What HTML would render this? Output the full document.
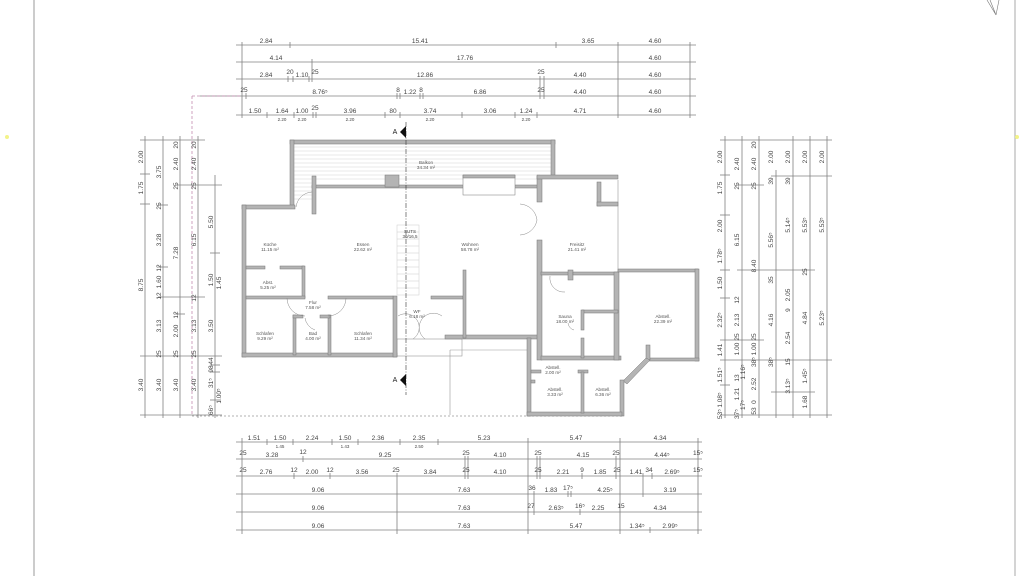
<!DOCTYPE html>
<html><head><meta charset="utf-8"><style>
html,body{margin:0;padding:0;background:#fff;width:1024px;height:576px;overflow:hidden}
svg{display:block}
.d{stroke:#808080;stroke-width:0.8;fill:none}
.t{font-family:"Liberation Sans",sans-serif;font-size:6.5px;fill:#444;text-anchor:middle}
.s{font-family:"Liberation Sans",sans-serif;font-size:4.5px;fill:#444;text-anchor:middle}
.r{font-family:"Liberation Sans",sans-serif;font-size:4.6px;fill:#555;text-anchor:middle}
.w{fill:#b4b4b4;stroke:#777;stroke-width:0.5}
.l{stroke:#999;stroke-width:0.6;fill:none}
</style></head><body>
<svg width="1024" height="576" viewBox="0 0 1024 576" xmlns="http://www.w3.org/2000/svg">
<!-- page borders -->
<line x1="34" y1="0" x2="34" y2="576" stroke="#999" stroke-width="1"/>
<line x1="1015" y1="0" x2="1015" y2="576" stroke="#aaa" stroke-width="1"/>
<path d="M987 0 L996 15 L990 0 M996 15 L999 0" stroke="#777" stroke-width="0.6" fill="none"/>
<circle cx="7" cy="137" r="2" fill="#f3f38a"/>
<circle cx="1017" cy="137" r="2" fill="#f3f38a"/>

<!-- TOP DIMENSIONS -->
<g class="d">
<line x1="236" y1="45" x2="696" y2="45"/><line x1="236" y1="62" x2="696" y2="62"/>
<line x1="236" y1="79" x2="696" y2="79"/><line x1="200" y1="96" x2="696" y2="96"/>
<line x1="236" y1="115" x2="696" y2="115"/>
<line x1="242" y1="42" x2="242" y2="118"/><line x1="690" y1="42" x2="690" y2="118"/><line x1="618" y1="42" x2="618" y2="118"/>
<line x1="290" y1="42" x2="290" y2="48"/><line x1="556" y1="42" x2="556" y2="48"/>
<line x1="312" y1="59" x2="312" y2="82"/>
<line x1="288" y1="76" x2="288" y2="82"/><line x1="293" y1="76" x2="293" y2="82"/><line x1="309" y1="76" x2="309" y2="82"/>
<line x1="540" y1="76" x2="540" y2="99"/><line x1="544" y1="76" x2="544" y2="99"/>
<line x1="246" y1="93" x2="246" y2="99"/><line x1="397" y1="93" x2="397" y2="99"/><line x1="400" y1="93" x2="400" y2="99"/>
<line x1="420" y1="93" x2="420" y2="99"/><line x1="423" y1="93" x2="423" y2="99"/>
<line x1="267" y1="112" x2="267" y2="118"/><line x1="294" y1="112" x2="294" y2="118"/><line x1="313" y1="112" x2="313" y2="118"/><line x1="316" y1="112" x2="316" y2="118"/>
<line x1="385" y1="112" x2="385" y2="118"/><line x1="400" y1="112" x2="400" y2="118"/><line x1="462" y1="112" x2="462" y2="118"/><line x1="515" y1="112" x2="515" y2="118"/><line x1="537" y1="112" x2="537" y2="118"/>
</g>
<g class="t">
<text x="266" y="43">2.84</text><text x="420" y="43">15.41</text><text x="588" y="43">3.65</text><text x="655" y="43">4.60</text>
<text x="276" y="60">4.14</text><text x="465" y="60">17.76</text><text x="655" y="60">4.60</text>
<text x="266" y="77">2.84</text><text x="290" y="74">20</text><text x="302" y="77">1.10</text><text x="315" y="74">25</text><text x="425" y="77">12.86</text><text x="541" y="74">25</text><text x="580" y="77">4.40</text><text x="655" y="77">4.60</text>
<text x="244" y="92">25</text><text x="320" y="94">8.76⁵</text><text x="398" y="92">8</text><text x="410" y="94">1.22</text><text x="421" y="92">8</text><text x="480" y="94">6.86</text><text x="541" y="92">25</text><text x="580" y="94">4.40</text><text x="655" y="94">4.60</text>
<text x="255" y="113">1.50</text><text x="282" y="113">1.64</text><text x="302" y="113">1.00</text><text x="315" y="110">25</text><text x="350" y="113">3.96</text><text x="393" y="113">80</text><text x="430" y="113">3.74</text><text x="490" y="113">3.06</text><text x="526" y="113">1.24</text><text x="580" y="113">4.71</text><text x="655" y="113">4.60</text>
</g>
<g class="s"><text x="282" y="121">2.20</text><text x="302" y="121">2.20</text><text x="350" y="121">2.20</text><text x="430" y="121">2.20</text><text x="526" y="121">2.20</text></g>

<!-- pink dashed -->
<path d="M192 96 H242 M192 96 V415" stroke="#c48cb0" stroke-width="0.8" stroke-dasharray="3,2" fill="none"/>
<line x1="192" y1="416" x2="622" y2="416" stroke="#999" stroke-width="0.7" stroke-dasharray="2,2"/>

<!-- LEFT DIMENSIONS -->
<g class="d">
<line x1="145" y1="136" x2="145" y2="418"/><line x1="163" y1="136" x2="163" y2="418"/><line x1="180" y1="136" x2="180" y2="418"/><line x1="198" y1="136" x2="198" y2="418"/><line x1="215" y1="175" x2="215" y2="418"/>
<line x1="140" y1="140" x2="205" y2="140"/><line x1="140" y1="174" x2="150" y2="174"/><line x1="140" y1="204" x2="150" y2="204"/>
<line x1="140" y1="356" x2="222" y2="356"/><line x1="140" y1="415" x2="222" y2="415"/>
<line x1="176" y1="185" x2="222" y2="185"/><line x1="158" y1="205" x2="168" y2="205"/><line x1="158" y1="267" x2="168" y2="267"/><line x1="158" y1="297" x2="205" y2="297"/>
<line x1="210" y1="253" x2="220" y2="253"/><line x1="175" y1="314" x2="185" y2="314"/>
<line x1="210" y1="365" x2="220" y2="365"/><line x1="210" y1="372" x2="220" y2="372"/><line x1="210" y1="400" x2="220" y2="400"/>
</g>
<g class="t">
<text transform="translate(143,157) rotate(-90)">2.00</text><text transform="translate(143,188) rotate(-90)">1.75</text><text transform="translate(143,285) rotate(-90)">8.75</text><text transform="translate(143,385) rotate(-90)">3.40</text>
<text transform="translate(161,172) rotate(-90)">3.75</text><text transform="translate(161,206) rotate(-90)">25</text><text transform="translate(161,240) rotate(-90)">3.28</text><text transform="translate(161,268) rotate(-90)">12</text><text transform="translate(161,282) rotate(-90)">1.60</text><text transform="translate(161,296) rotate(-90)">12</text><text transform="translate(161,326) rotate(-90)">3.13</text><text transform="translate(161,354) rotate(-90)">25</text><text transform="translate(161,385) rotate(-90)">3.40</text>
<text transform="translate(178,145) rotate(-90)">20</text><text transform="translate(178,164) rotate(-90)">2.40</text><text transform="translate(178,186) rotate(-90)">25</text><text transform="translate(178,253) rotate(-90)">7.28</text><text transform="translate(178,315) rotate(-90)">12</text><text transform="translate(178,331) rotate(-90)">2.00</text><text transform="translate(178,354) rotate(-90)">25</text><text transform="translate(178,385) rotate(-90)">3.40</text>
<text transform="translate(196,145) rotate(-90)">20</text><text transform="translate(196,164) rotate(-90)">2.40</text><text transform="translate(196,186) rotate(-90)">25</text><text transform="translate(196,240) rotate(-90)">6.15</text><text transform="translate(196,298) rotate(-90)">12</text><text transform="translate(196,326) rotate(-90)">3.13</text><text transform="translate(196,354) rotate(-90)">25</text><text transform="translate(196,385) rotate(-90)">3.40</text>
<text transform="translate(213,222) rotate(-90)">5.50</text><text transform="translate(213,280) rotate(-90)">1.50</text><text transform="translate(221,283) rotate(-90)">1.45</text><text transform="translate(213,326) rotate(-90)">3.50</text><text transform="translate(213,361) rotate(-90)">44</text><text transform="translate(213,369) rotate(-90)">98</text><text transform="translate(213,383) rotate(-90)">31⁵</text><text transform="translate(221,396) rotate(-90)">1.00⁵</text><text transform="translate(213,410) rotate(-90)">66⁵</text>
</g>

<!-- RIGHT DIMENSIONS -->
<g class="d">
<line x1="725" y1="136" x2="725" y2="418"/><line x1="742" y1="136" x2="742" y2="418"/><line x1="759" y1="136" x2="759" y2="418"/><line x1="776" y1="170" x2="776" y2="418"/><line x1="793" y1="136" x2="793" y2="418"/><line x1="810" y1="136" x2="810" y2="418"/><line x1="827" y1="136" x2="827" y2="418"/>
<line x1="720" y1="140" x2="832" y2="140"/><line x1="720" y1="175" x2="730" y2="175"/><line x1="737" y1="185" x2="764" y2="185"/><line x1="771" y1="176" x2="832" y2="176"/>
<line x1="720" y1="215" x2="730" y2="215"/><line x1="720" y1="270" x2="730" y2="270"/><line x1="737" y1="270" x2="815" y2="270"/><line x1="720" y1="298" x2="730" y2="298"/>
<line x1="720" y1="340" x2="764" y2="340"/><line x1="720" y1="360" x2="832" y2="360"/><line x1="720" y1="385" x2="730" y2="385"/><line x1="771" y1="392" x2="815" y2="392"/>
<line x1="720" y1="415" x2="832" y2="415"/>
</g>
<g class="t">
<text transform="translate(722,157) rotate(-90)">2.00</text><text transform="translate(722,188) rotate(-90)">1.75</text><text transform="translate(722,226) rotate(-90)">2.00</text><text transform="translate(722,256) rotate(-90)">1.78⁵</text><text transform="translate(722,283) rotate(-90)">1.50</text><text transform="translate(722,320) rotate(-90)">2.32⁵</text><text transform="translate(722,350) rotate(-90)">1.41</text><text transform="translate(722,375) rotate(-90)">1.51⁵</text><text transform="translate(722,400) rotate(-90)">1.08⁵</text><text transform="translate(722,414) rotate(-90)">53⁵</text>
<text transform="translate(739,164) rotate(-90)">2.40</text><text transform="translate(739,186) rotate(-90)">25</text><text transform="translate(739,240) rotate(-90)">6.15</text><text transform="translate(739,300) rotate(-90)">12</text><text transform="translate(739,320) rotate(-90)">2.13</text><text transform="translate(739,337) rotate(-90)">25</text><text transform="translate(739,349) rotate(-90)">1.00</text><text transform="translate(739,378) rotate(-90)">13</text><text transform="translate(745,372) rotate(-90)">1.16⁵</text><text transform="translate(739,394) rotate(-90)">1.21</text><text transform="translate(745,405) rotate(-90)">17⁵</text><text transform="translate(739,414) rotate(-90)">37⁵</text>
<text transform="translate(756,145) rotate(-90)">20</text><text transform="translate(756,164) rotate(-90)">2.40</text><text transform="translate(756,186) rotate(-90)">25</text><text transform="translate(756,266) rotate(-90)">8.40</text><text transform="translate(756,337) rotate(-90)">25</text><text transform="translate(756,349) rotate(-90)">1.00</text><text transform="translate(756,362) rotate(-90)">38⁵</text><text transform="translate(756,384) rotate(-90)">2.52</text><text transform="translate(756,402) rotate(-90)">0</text><text transform="translate(756,411) rotate(-90)">53</text>
<text transform="translate(773,157) rotate(-90)">2.00</text><text transform="translate(773,181) rotate(-90)">39</text><text transform="translate(773,240) rotate(-90)">5.56⁵</text><text transform="translate(773,280) rotate(-90)">35</text><text transform="translate(773,320) rotate(-90)">4.16</text><text transform="translate(773,362) rotate(-90)">38⁵</text>
<text transform="translate(790,157) rotate(-90)">2.00</text><text transform="translate(790,181) rotate(-90)">39</text><text transform="translate(790,225) rotate(-90)">5.14⁵</text><text transform="translate(790,295) rotate(-90)">2.05</text><text transform="translate(790,310) rotate(-90)">9</text><text transform="translate(790,338) rotate(-90)">2.54</text><text transform="translate(790,362) rotate(-90)">15</text><text transform="translate(790,386) rotate(-90)">3.13⁵</text>
<text transform="translate(807,157) rotate(-90)">2.00</text><text transform="translate(807,225) rotate(-90)">5.53⁵</text><text transform="translate(807,272) rotate(-90)">25</text><text transform="translate(807,318) rotate(-90)">4.84</text><text transform="translate(807,376) rotate(-90)">1.45⁵</text><text transform="translate(807,402) rotate(-90)">1.68</text>
<text transform="translate(824,157) rotate(-90)">2.00</text><text transform="translate(824,225) rotate(-90)">5.53⁵</text><text transform="translate(824,318) rotate(-90)">5.23⁵</text>
</g>

<!-- BOTTOM DIMENSIONS -->
<g class="d">
<line x1="236" y1="442" x2="702" y2="442"/><line x1="236" y1="459" x2="702" y2="459"/><line x1="236" y1="476" x2="702" y2="476"/><line x1="236" y1="494" x2="702" y2="494"/><line x1="236" y1="512" x2="702" y2="512"/><line x1="236" y1="530" x2="702" y2="530"/>
<line x1="242" y1="438" x2="242" y2="534"/><line x1="698" y1="438" x2="698" y2="534"/><line x1="397" y1="473" x2="397" y2="534"/><line x1="528" y1="438" x2="528" y2="534"/><line x1="620" y1="438" x2="620" y2="534"/>
<line x1="267" y1="439" x2="267" y2="445"/><line x1="293" y1="439" x2="293" y2="445"/><line x1="332" y1="439" x2="332" y2="445"/><line x1="358" y1="439" x2="358" y2="445"/><line x1="400" y1="439" x2="400" y2="445"/><line x1="438" y1="439" x2="438" y2="445"/>
<line x1="465" y1="456" x2="465" y2="479"/><line x1="468" y1="456" x2="468" y2="479"/><line x1="537" y1="456" x2="537" y2="479"/><line x1="540" y1="456" x2="540" y2="479"/><line x1="616" y1="456" x2="616" y2="479"/>
<line x1="303" y1="456" x2="303" y2="462"/><line x1="294" y1="473" x2="294" y2="479"/><line x1="330" y1="473" x2="330" y2="479"/><line x1="582" y1="473" x2="582" y2="479"/><line x1="643" y1="473" x2="643" y2="497"/><line x1="652" y1="473" x2="652" y2="479"/>
<line x1="534" y1="491" x2="534" y2="515"/><line x1="568" y1="491" x2="568" y2="497"/><line x1="571" y1="491" x2="571" y2="497"/><line x1="580" y1="509" x2="580" y2="515"/><line x1="650" y1="527" x2="650" y2="533"/>
</g>
<g class="t">
<text x="254" y="440">1.51</text><text x="280" y="440">1.50</text><text x="312" y="440">2.24</text><text x="345" y="440">1.50</text><text x="378" y="440">2.36</text><text x="419" y="440">2.35</text><text x="484" y="440">5.23</text><text x="576" y="440">5.47</text><text x="660" y="440">4.34</text>
<text x="243" y="455">25</text><text x="272" y="457">3.28</text><text x="303" y="454">12</text><text x="385" y="457">9.25</text><text x="466" y="455">25</text><text x="500" y="457">4.10</text><text x="538" y="455">25</text><text x="583" y="457">4.15</text><text x="616" y="455">25</text><text x="662" y="457">4.44⁵</text><text x="698" y="455">15⁵</text>
<text x="243" y="472">25</text><text x="266" y="474">2.76</text><text x="294" y="472">12</text><text x="312" y="474">2.00</text><text x="330" y="472">12</text><text x="362" y="474">3.56</text><text x="396" y="472">25</text><text x="430" y="474">3.84</text><text x="466" y="472">25</text><text x="500" y="474">4.10</text><text x="538" y="472">25</text><text x="563" y="474">2.21</text><text x="582" y="472">9</text><text x="600" y="474">1.85</text><text x="617" y="472">25</text><text x="636" y="474">1.41</text><text x="649" y="472">34</text><text x="672" y="474">2.69⁵</text><text x="698" y="472">15⁵</text>
<text x="318" y="492">9.06</text><text x="464" y="492">7.63</text><text x="532" y="490">36</text><text x="551" y="492">1.83</text><text x="568" y="490">17⁵</text><text x="605" y="492">4.25⁵</text><text x="670" y="492">3.19</text>
<text x="318" y="510">9.06</text><text x="464" y="510">7.63</text><text x="531" y="508">27</text><text x="556" y="510">2.63⁵</text><text x="580" y="508">16⁵</text><text x="598" y="510">2.25</text><text x="621" y="508">15</text><text x="660" y="510">4.34</text>
<text x="318" y="528">9.06</text><text x="464" y="528">7.63</text><text x="576" y="528">5.47</text><text x="637" y="528">1.34⁵</text><text x="670" y="528">2.99⁵</text>
</g>
<g class="s"><text x="280" y="448">1.45</text><text x="345" y="448">1.43</text><text x="419" y="448">2.50</text></g>

<!-- PLAN -->
<!-- balcony hatching -->
<g stroke="#d4d4d4" stroke-width="0.5">
<line x1="294" y1="147" x2="551" y2="147"/><line x1="294" y1="151" x2="551" y2="151"/><line x1="294" y1="155" x2="551" y2="155"/><line x1="294" y1="159" x2="551" y2="159"/><line x1="294" y1="163" x2="551" y2="163"/><line x1="294" y1="167" x2="551" y2="167"/><line x1="294" y1="171" x2="551" y2="171"/><line x1="294" y1="175" x2="540" y2="175"/><line x1="294" y1="179" x2="540" y2="179"/><line x1="294" y1="183" x2="312" y2="183"/><line x1="294" y1="187" x2="312" y2="187"/><line x1="294" y1="191" x2="312" y2="191"/><line x1="294" y1="195" x2="312" y2="195"/><line x1="294" y1="199" x2="312" y2="199"/>
</g>
<!-- stairs -->
<g stroke="#ccc" stroke-width="0.5" fill="none">
<rect x="397" y="225" width="22" height="70"/>
<line x1="397" y1="232" x2="419" y2="232"/><line x1="397" y1="239" x2="419" y2="239"/><line x1="397" y1="246" x2="419" y2="246"/><line x1="397" y1="253" x2="419" y2="253"/><line x1="397" y1="260" x2="419" y2="260"/><line x1="397" y1="267" x2="419" y2="267"/><line x1="397" y1="274" x2="419" y2="274"/><line x1="397" y1="281" x2="419" y2="281"/><line x1="397" y1="288" x2="419" y2="288"/>
</g>
<!-- light outlines -->
<g class="l">
<rect x="397" y="339" width="65" height="17"/>
<path d="M450 350 H528 M450 350 V415"/>
<line x1="618" y1="180" x2="618" y2="272"/>
</g>
<!-- walls -->
<g class="w">
<rect x="290" y="140" width="265" height="4"/><rect x="290" y="140" width="4" height="66"/><rect x="551" y="140" width="4" height="36"/>
<rect x="312" y="185" width="228" height="3"/><rect x="312" y="176" width="4" height="38"/>
<rect x="385" y="175" width="14" height="12"/>
<rect x="463" y="175" width="52" height="20" fill="#fff"/><rect x="463" y="175" width="52" height="3"/>
<rect x="242" y="205" width="53" height="4"/><rect x="242" y="205" width="4" height="152"/>
<rect x="242" y="353" width="155" height="4"/><rect x="393" y="296" width="4" height="61"/>
<rect x="445" y="335" width="95" height="4"/>
<rect x="537" y="176" width="5" height="26"/><rect x="537" y="240" width="5" height="120"/>
<rect x="537" y="175" width="81" height="4"/><rect x="597" y="182" width="4" height="24"/><rect x="597" y="202" width="21" height="4"/>
<rect x="246" y="266" width="19" height="3"/><rect x="280" y="266" width="24" height="3"/><rect x="302" y="266" width="3" height="32"/>
<rect x="246" y="296" width="59" height="3"/><rect x="328" y="296" width="65" height="3"/>
<rect x="431" y="296" width="32" height="3"/><rect x="463" y="270" width="3" height="68"/>
<rect x="293" y="315" width="3" height="40"/><rect x="328" y="315" width="3" height="40"/><rect x="293" y="315" width="10" height="3"/><rect x="320" y="315" width="10" height="3"/>
<rect x="541" y="272" width="28" height="3"/><rect x="568" y="270" width="5" height="10"/><rect x="573" y="272" width="45" height="3"/>
<rect x="541" y="356" width="80" height="4"/><rect x="614" y="272" width="5" height="88"/>
<rect x="582" y="310" width="36" height="3"/><rect x="581" y="310" width="3" height="20"/><rect x="581" y="338" width="3" height="20"/>
<rect x="618" y="269" width="80" height="3"/><rect x="695" y="269" width="4" height="92"/><rect x="648" y="358" width="51" height="3"/><rect x="646" y="345" width="4" height="15"/>
<polygon points="646,358 650,360 627,384 623,381"/>
<rect x="620" y="380" width="4" height="36"/>
<rect x="527" y="338" width="4" height="78"/><rect x="527" y="412" width="95" height="4"/>
<rect x="531" y="370" width="10" height="3"/><rect x="578" y="370" width="10" height="3"/><rect x="581" y="372" width="3" height="41"/>
<rect x="531" y="380" width="4" height="3"/>
</g>
<!-- door arcs -->
<g stroke="#888" stroke-width="0.5" fill="none">
<path d="M296 207 A17 17 0 0 1 312 192"/><path d="M520 204 A18 18 0 0 1 537 220 M520 235 A18 18 0 0 0 537 220"/>
<path d="M287 298 A18 18 0 0 0 305 316 M346 298 A18 18 0 0 1 328 316 M305 318 A15 15 0 0 0 315 330"/>
<path d="M398 316 A12 12 0 0 1 413 339 M442 316 A12 12 0 0 0 425 339"/>
<path d="M550 276 A14 14 0 0 0 565 292"/><path d="M568 323 A8 8 0 0 0 574 330"/>
</g>
<!-- section line -->
<line x1="406" y1="122" x2="406" y2="395" stroke="#333" stroke-width="0.6" stroke-dasharray="5,1.5,1,1.5"/>
<polygon points="400,132 406,126 406,138" fill="#111"/><polygon points="400,380 406,374 406,386" fill="#111"/>
<text x="395" y="134" font-family="Liberation Sans,sans-serif" font-size="7" fill="#222" text-anchor="middle">A</text>
<text x="395" y="382" font-family="Liberation Sans,sans-serif" font-size="7" fill="#222" text-anchor="middle">A</text>
<!-- room labels -->
<g class="r">
<text x="426" y="164">Balkon</text><text x="426" y="169">34.34 m²</text>
<text x="270" y="246">Küche</text><text x="270" y="251">11.15 m²</text>
<text x="363" y="246">Essen</text><text x="363" y="251">22.62 m²</text>
<text x="470" y="246">Wohnen</text><text x="470" y="251">58.78 m²</text>
<text x="577" y="246">Freisitz</text><text x="577" y="251">21.41 m²</text>
<text x="268" y="284">Abst.</text><text x="268" y="289">5.25 m²</text>
<text x="313" y="304">Flur</text><text x="313" y="309">7.58 m²</text>
<text x="265" y="335">Schlafen</text><text x="265" y="340">9.29 m²</text>
<text x="313" y="335">Bad</text><text x="313" y="340">4.00 m²</text>
<text x="363" y="335">Schlafen</text><text x="363" y="340">11.34 m²</text>
<text x="417" y="313">WF</text><text x="417" y="318">6.18 m²</text>
<text x="565" y="318">Sauna</text><text x="565" y="323">18.00 m²</text>
<text x="663" y="318">Abstell.</text><text x="663" y="323">22.39 m²</text>
<text x="553" y="369">Abstell.</text><text x="553" y="374">2.00 m²</text>
<text x="555" y="391">Abstell.</text><text x="555" y="396">3.33 m²</text>
<text x="603" y="391">Abstell.</text><text x="603" y="396">6.36 m²</text>
</g>
<g class="s"><text x="410" y="233">SUTS</text><text x="410" y="238">30/16,5</text></g>
</svg>
</body></html>
